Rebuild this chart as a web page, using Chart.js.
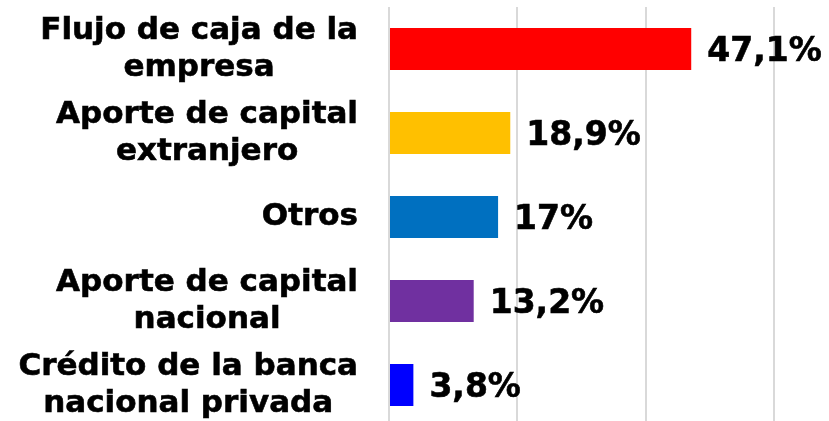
<!DOCTYPE html>
<html>
<head>
<meta charset="utf-8">
<script src="https://cdn.jsdelivr.net/npm/chart.js@4"></script>
<style>
  html, body { margin: 0; padding: 0; background: #fff; overflow: hidden; }
  #wrap { position: relative; width: 829px; height: 430px; }
</style>
</head>
<body>
<div id="wrap"><canvas id="chart"></canvas></div>
<script>
// Data
const categories = [
    ['Flujo de caja de la', 'empresa'],
    ['Aporte de capital', 'extranjero'],
    ['Otros'],
    ['Aporte de capital', 'nacional'],
    ['Crédito de la banca', 'nacional privada']
];
const values = [47.1, 18.9, 17, 13.2, 3.8];
const valueLabels = ['47,1%', '18,9%', '17%', '13,2%', '3,8%'];
const barColors = ['#ff0000', '#ffc000', '#0070c0', '#7030a0', '#0000ff'];
const xTicks = [0, 20, 40, 60];

const labelFont = 'bold 31px "DejaVu Sans"';
const labelLine = 37;

// Category labels: block right-aligned to the axis, lines centred inside the block
const categoryLabelPlugin = {
    id: 'categoryLabels',
    afterDraw(chart) {
        const ctx = chart.ctx;
        const yScale = chart.scales.y;
        const right = chart.chartArea.left - 31;
        ctx.save();
        ctx.font = labelFont;
        ctx.fillStyle = '#000';
        ctx.strokeStyle = '#000';
        ctx.lineWidth = 0.6;
        ctx.textAlign = 'center';
        ctx.textBaseline = 'middle';
        categories.forEach((lines, i) => {
            const y = yScale.getPixelForValue(i);
            const widest = Math.max(...lines.map(l => ctx.measureText(l).width));
            const cx = right - widest / 2;
            const top = y - (lines.length - 1) * labelLine / 2;
            lines.forEach((line, j) => {
                ctx.fillText(line, cx, top + j * labelLine);
                ctx.strokeText(line, cx, top + j * labelLine);
            });
        });
        ctx.restore();
    }
};

// Draw the value next to the end of each bar
const valueLabelPlugin = {
    id: 'valueLabels',
    afterDatasetsDraw(chart) {
        const ctx = chart.ctx;
        const meta = chart.getDatasetMeta(0);
        ctx.save();
        ctx.font = 'bold 33px "DejaVu Sans"';
        ctx.fillStyle = '#000';
        ctx.strokeStyle = '#000';
        ctx.lineWidth = 0.6;
        ctx.textAlign = 'left';
        ctx.textBaseline = 'middle';
        meta.data.forEach((bar, i) => {
            ctx.fillText(valueLabels[i], bar.x + 16, bar.y + 3);
            ctx.strokeText(valueLabels[i], bar.x + 16, bar.y + 3);
        });
        ctx.restore();
    }
};

const ctx = document.getElementById('chart').getContext('2d');
new Chart(ctx, {
    type: 'bar',
    data: {
        labels: categories,
        datasets: [{
            data: values,
            backgroundColor: barColors,
            borderWidth: 0,
            barPercentage: 0.5,
            categoryPercentage: 1
        }]
    },
    options: {
        indexAxis: 'y',
        responsive: true,
        maintainAspectRatio: false,
        animation: false,
        layout: { padding: { top: 7, bottom: 3, right: 55, left: 0 } },
        plugins: {
            legend: { display: false },
            tooltip: { enabled: false }
        },
        scales: {
            x: {
                min: xTicks[0],
                max: xTicks[xTicks.length - 1],
                afterBuildTicks: (scale) => {
                    scale.ticks = xTicks.map(v => ({ value: v }));
                },
                afterFit: (scale) => {
                    scale.height = 0;
                    scale.paddingLeft = 0;
                    scale.paddingRight = 0;
                },
                ticks: { display: false },
                border: { display: false },
                grid: { color: '#d9d9d9', lineWidth: 2, drawTicks: false }
            },
            y: {
                grid: { display: false, drawTicks: false },
                border: { display: false },
                afterFit: (scale) => {
                    scale.width = 389;
                    scale.paddingTop = 0;
                    scale.paddingBottom = 0;
                },
                ticks: { display: false }
            }
        }
    },
    plugins: [categoryLabelPlugin, valueLabelPlugin]
});
</script>
</body>
</html>
